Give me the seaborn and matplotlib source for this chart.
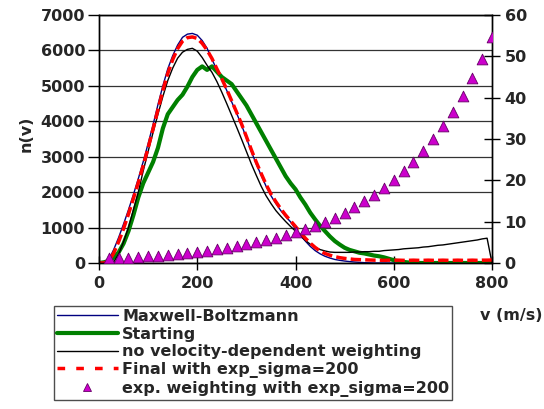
import numpy as np
import matplotlib
matplotlib.use('Agg')
import matplotlib.pyplot as plt
import seaborn as sns
from matplotlib.lines import Line2D

# speed grid (m/s) for the distribution curves
v = np.arange(0, 801, 10)

maxwell = [
    0, 0, 100, 380, 720, 1100, 1500, 1930, 2380, 2860,
    3370, 3900, 4470, 5000, 5480, 5850, 6150, 6370, 6460, 6480,
    6430, 6280, 6060, 5750, 5450, 5180, 4870, 4550, 4230, 3900,
    3530, 3150, 2800, 2480, 2170, 1900, 1680, 1480, 1310, 1160,
    950, 780, 620, 470, 350, 260, 190, 140, 100, 75,
    55, 40, 28, 18, 10, 5, 0, 0, 0, 0,
    0, 0, 0, 0, 0, 0, 0, 0, 0, 0,
    0, 0, 0, 0, 0, 0, 0, 0, 0, 0,
    0,
]

starting = [
    0, 20, 60, 150, 300, 550, 900, 1350, 1850, 2250,
    2550, 2850, 3250, 3800, 4200, 4400, 4600, 4750, 4980, 5250,
    5450, 5550, 5450, 5550, 5400, 5250, 5150, 5050, 4850, 4650,
    4450, 4200, 3950, 3700, 3450, 3200, 2950, 2700, 2450, 2250,
    2080, 1850, 1650, 1420, 1230, 1050, 900, 750, 620, 520,
    430, 370, 330, 290, 270, 240, 210, 190, 160, 120,
    80, 50, 30, 15, 5, 0, 0, 0, 0, 0,
    0, 0, 0, 0, 0, 0, 0, 0, 0, 0,
    0,
]

no_weighting = [
    0, 0, 0, 30, 250, 600, 1000, 1500, 2000, 2600,
    3150, 3680, 4200, 4700, 5150, 5500, 5780, 5950, 6030, 6060,
    5980, 5800, 5580, 5380, 5120, 4820, 4500, 4170, 3840, 3500,
    3150, 2800, 2480, 2170, 1900, 1680, 1480, 1320, 1170, 1030,
    900, 770, 640, 530, 440, 380, 340, 310, 300, 300,
    300, 300, 310, 310, 320, 320, 330, 330, 350, 360,
    370, 380, 400, 410, 420, 430, 450, 460, 480, 500,
    510, 530, 550, 570, 590, 610, 630, 650, 680, 700,
    0,
]

final = [
    0, 0, 50, 280, 600, 970, 1380, 1820, 2270, 2750,
    3250, 3780, 4330, 4870, 5350, 5740, 6050, 6260, 6360, 6380,
    6340, 6200, 6010, 5770, 5480, 5200, 4900, 4580, 4260, 3930,
    3570, 3200, 2850, 2530, 2220, 1950, 1730, 1530, 1350, 1190,
    1030, 860, 700, 560, 440, 340, 270, 220, 180, 150,
    130, 115, 100, 95, 90, 85, 80, 80, 75, 80,
    75, 80, 75, 75, 80, 75, 75, 80, 75, 75,
    80, 75, 75, 80, 75, 75, 80, 75, 80, 80,
    85,
]

# exponential weighting factor (right axis)
v_weight = np.arange(20, 801, 20)
weight = [
    1.1, 1.2, 1.3, 1.5, 1.6, 1.8, 2.0, 2.2, 2.5, 2.7,
    3.0, 3.3, 3.7, 4.1, 4.5, 5.0, 5.5, 6.0, 6.7, 7.4,
    8.2, 9.0, 10.0, 11.0, 12.2, 13.5, 14.9, 16.4, 18.2, 20.1,
    22.2, 24.5, 27.1, 30.0, 33.1, 36.6, 40.4, 44.7, 49.4, 54.6,
]

labels = [
    'Maxwell-Boltzmann',
    'Starting',
    'no velocity-dependent weighting',
    'Final with exp_sigma=200',
    'exp. weighting with exp_sigma=200',
]

FS = 11.5

sns.set_style('white')
plt.rcParams['font.family'] = ['DejaVu Sans']
plt.rcParams['font.weight'] = 'bold'

fig = plt.figure(figsize=(5.44, 4.09), dpi=100)
ax = fig.add_axes([99 / 544, 1 - 263 / 409, 393 / 544, 248 / 409])

sns.lineplot(x=v, y=maxwell, ax=ax, color='#000080', linewidth=1.0)
sns.lineplot(x=v, y=starting, ax=ax, color='#008000', linewidth=3.0)
sns.lineplot(x=v, y=no_weighting, ax=ax, color='black', linewidth=1.0)
sns.lineplot(x=v, y=final, ax=ax, color='#FF0000', linewidth=2.5)
ax.lines[-1].set_dashes((3.0, 1.2))

ax.set_xlim(0, 800)
ax.set_ylim(0, 7000)
ax.set_xticks([0, 200, 400, 600, 800])
ax.set_yticks(range(0, 7001, 1000))
ax.yaxis.grid(True, color='0.2', linewidth=0.9)
ax.set_axisbelow(True)
ax.set_xlabel('')
ax.set_ylabel('')

ax2 = ax.twinx()
sns.scatterplot(x=v_weight, y=weight, ax=ax2, marker='^', s=60,
                color='#CC00CC', edgecolor='#660066', linewidth=0.6, zorder=5)
ax2.set_ylim(0, 60)
ax2.set_yticks(range(0, 61, 10))
ax2.set_ylabel('')

for a in (ax, ax2):
    for s in a.spines.values():
        s.set_color('black')
        s.set_linewidth(1.0)
    a.tick_params(labelsize=FS, width=1, color='black')
ax.tick_params(axis='y', direction='out', length=8, left=True, pad=2)
ax.tick_params(axis='x', direction='inout', length=10, bottom=True, pad=4)
ax2.tick_params(axis='y', direction='inout', length=12, right=True, pad=3)
for lab in ax.get_xticklabels() + ax.get_yticklabels() + ax2.get_yticklabels():
    lab.set_fontweight('bold')

fig.text(26 / 544, 1 - 134 / 409, 'n(v)', rotation=90, ha='center', va='center',
         fontsize=FS, fontweight='bold')
fig.text(543 / 544, 1 - 316 / 409, 'v (m/s)', ha='right', va='center',
         fontsize=FS, fontweight='bold')

handles = [
    Line2D([], [], color='#000080', linewidth=1.0),
    Line2D([], [], color='#008000', linewidth=3.0),
    Line2D([], [], color='black', linewidth=1.0),
    Line2D([], [], color='#FF0000', linewidth=2.5, dashes=(2.2, 3.2)),
    Line2D([], [], linestyle='none', marker='^', markersize=6,
           markerfacecolor='#CC00CC', markeredgecolor='#660066', markeredgewidth=0.6),
]
leg = fig.legend(handles, labels, loc='upper left',
                 bbox_to_anchor=(54 / 544, 1 - 306 / 409),
                 bbox_transform=fig.transFigure,
                 prop={'size': FS, 'weight': 'bold'},
                 handlelength=3.8, handletextpad=0.3, borderpad=0.18,
                 labelspacing=0.17, borderaxespad=0, fancybox=False,
                 framealpha=1, edgecolor='0.3')
leg.get_frame().set_linewidth(1.0)

fig.savefig('out.png', dpi=100)
